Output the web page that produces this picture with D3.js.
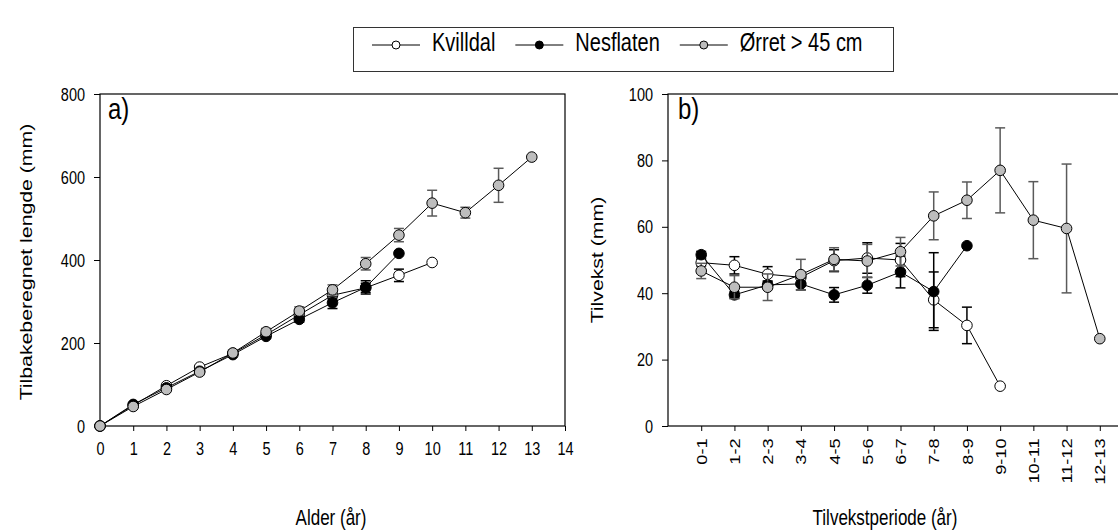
<!DOCTYPE html>
<html lang="en">
<head>
    <meta charset="UTF-8">
    <title>Tilbakeberegnet lengde og tilvekst</title>
    <style>
        body { margin: 0; background: #fff; }
        text { font-family: "Liberation Sans", Arial, sans-serif; fill: #000; }
        .tick text { font-size: 14.5px; }
    </style>
</head>
<body>
    <div id="target"></div>

    <script src="https://d3js.org/d3.v7.min.js"></script>
    <script>
        // --- data ---
        const seriesNames = ["Kvilldal", "Nesflaten", "Ørret > 45 cm"];
        const fills = ["#ffffff", "#000000", "#bdbdbd"];
        const errColors = ["#000000", "#000000", "#5a5a5a"];

        // a) length at age
        const ages = [0, 1, 2, 3, 4, 5, 6, 7, 8, 9, 10, 11, 12, 13];
        const lenKvilldal = [0, 50, 97, 142, 175, 220, 268, 315, 333, 363, 394];
        const seKvilldal = [0, 2, 3, 3, 4, 5, 7, 9, 11, 15, 0];
        const lenNesflaten = [0, 52, 92, 132, 172, 216, 257, 297, 334, 416];
        const seNesflaten = [0, 2, 2, 3, 4, 5, 7, 14, 16, 0];
        const lenOrret = [0, 47, 88, 130, 176, 227, 277, 328, 391, 460, 537, 514, 580, 648];
        const seOrret = [0, 3, 4, 6, 7, 8, 10, 12, 15, 16, 31, 13, 41, 0];

        // b) growth per period
        const periods = ["0-1", "1-2", "2-3", "3-4", "4-5", "5-6", "6-7", "7-8", "8-9", "9-10", "10-11", "11-12", "12-13"];
        const grKvilldal = [49.2, 48.4, 45.7, 44.8, 49.8, 50.6, 50.0, 38.0, 30.3, 12.0];
        const grSeKvilldal = [1.0, 2.6, 2.3, 1.5, 3.3, 4.6, 5.0, 8.4, 5.5, 0];
        const grNesflaten = [51.6, 39.5, 42.5, 42.8, 39.5, 42.4, 46.4, 40.5, 54.3];
        const grSeNesflaten = [1.0, 1.0, 1.2, 1.8, 2.2, 2.4, 4.8, 11.7, 0];
        const grOrret = [46.7, 41.8, 41.8, 45.6, 50.2, 49.7, 52.5, 63.3, 68.0, 77.0, 62.0, 59.5, 26.3];
        const grSeOrret = [2.3, 3.5, 4.0, 4.6, 3.5, 5.0, 4.3, 7.2, 5.5, 12.8, 11.6, 19.4, 0];

        const width = 1118;
        const height = 530;
        const sy = 1.25; // the figure's lettering is stretched vertically

        const svg = d3.select("#target")
            .append("svg")
            .attr("width", width)
            .attr("height", height);

        // text helper: places stretched text at x,y (rot = rotate -90)
        function label(g, x, y, str, size, anchor, rot) {
            return g.append("text")
                .attr("transform", `translate(${x},${y}) scale(1,${sy})` + (rot ? " rotate(-90)" : ""))
                .attr("text-anchor", anchor)
                .style("font-size", size + "px")
                .text(str);
        }

        // ---------- panel a ----------
        const xA = d3.scaleLinear().domain([0, 14]).range([100, 565]);
        const yA = d3.scaleLinear().domain([0, 800]).range([426, 94]);

        const gA = svg.append("g");

        gA.append("g")
            .attr("transform", "translate(0,426)")
            .call(d3.axisBottom(xA).tickValues(d3.range(0, 15)).tickSize(5).tickFormat(d3.format("d")))
            .call(g => g.select(".domain").remove())
            .call(g => g.selectAll(".tick text").attr("y", 23.6).attr("dy", 0).attr("transform", `scale(1,${sy})`));
        gA.append("g")
            .attr("transform", "translate(100,0)")
            .call(d3.axisLeft(yA).tickValues([0, 200, 400, 600, 800]).tickSize(6).tickPadding(9))
            .call(g => g.select(".domain").remove())
            .call(g => g.selectAll(".tick text").attr("dy", "0.34em").attr("transform", `scale(1,${sy})`));

        gA.append("rect")
            .attr("x", 100).attr("y", 94)
            .attr("width", 465).attr("height", 332)
            .attr("fill", "none").attr("stroke", "#000").attr("stroke-width", 1.2);

        const seriesA = [
            { vals: lenKvilldal, se: seKvilldal },
            { vals: lenNesflaten, se: seNesflaten },
            { vals: lenOrret, se: seOrret }
        ];
        seriesA.forEach((s, i) => {
            const pts = s.vals.map((v, j) => ({ x: ages[j], y: v, se: s.se[j] }));
            drawSeries(gA, pts, xA, yA, i);
        });

        label(gA, 108, 119, "a)", 24, "start", false);
        label(gA, 32, 262, "Tilbakeberegnet lengde (mm)", 17, "middle", true);
        label(gA, 331, 525, "Alder (år)", 17, "middle", false);

        // ---------- panel b ----------
        const xB = d3.scaleLinear().domain([-1, 13]).range([668, 1133]);
        const yB = d3.scaleLinear().domain([0, 100]).range([426, 94]);

        const gB = svg.append("g");

        gB.append("g")
            .attr("transform", "translate(0,426)")
            .call(d3.axisBottom(xB).tickValues(d3.range(0, periods.length)).tickSize(5).tickFormat(i => periods[i]))
            .call(g => g.select(".domain").remove())
            .call(g => g.selectAll(".tick text")
                .attr("transform", `scale(1,${sy}) rotate(-90)`)
                .attr("text-anchor", "end")
                .attr("dy", "0.35em")
                .attr("x", -10)
                .attr("y", 0));

        gB.append("g")
            .attr("transform", "translate(668,0)")
            .call(d3.axisLeft(yB).tickValues([0, 20, 40, 60, 80, 100]).tickSize(6).tickPadding(9))
            .call(g => g.select(".domain").remove())
            .call(g => g.selectAll(".tick text").attr("dy", "0.34em").attr("transform", `scale(1,${sy})`));

        gB.append("rect")
            .attr("x", 668).attr("y", 94)
            .attr("width", 465).attr("height", 332)
            .attr("fill", "none").attr("stroke", "#000").attr("stroke-width", 1.2);

        const seriesB = [
            { vals: grKvilldal, se: grSeKvilldal },
            { vals: grNesflaten, se: grSeNesflaten },
            { vals: grOrret, se: grSeOrret }
        ];
        seriesB.forEach((s, i) => {
            const pts = s.vals.map((v, j) => ({ x: j, y: v, se: s.se[j] }));
            drawSeries(gB, pts, xB, yB, i);
        });

        label(gB, 678, 119, "b)", 24, "start", false);
        label(gB, 603, 260, "Tilvekst (mm)", 17, "middle", true);
        label(gB, 885, 525, "Tilvekstperiode (år)", 17, "middle", false);

        svg.selectAll(".tick line").attr("stroke", "#000");

        // ---------- legend ----------
        const leg = svg.append("g");
        leg.append("rect")
            .attr("x", 353.5).attr("y", 27.5)
            .attr("width", 540).attr("height", 44)
            .attr("fill", "#fff").attr("stroke", "#333").attr("stroke-width", 1);

        let lx = 372;
        seriesNames.forEach((name, i) => {
            leg.append("line")
                .attr("x1", lx).attr("x2", lx + 48)
                .attr("y1", 45).attr("y2", 45)
                .attr("stroke", "#000").attr("stroke-width", 1);
            leg.append("circle")
                .attr("cx", lx + 24).attr("cy", 45).attr("r", 4)
                .attr("fill", fills[i]).attr("stroke", "#000").attr("stroke-width", 1);
            const t = label(leg, lx + 60, 51, name, 20, "start", false);
            lx += 60 + t.node().getComputedTextLength() + 20;
        });

        function drawSeries(g, pts, x, y, i) {
            const line = d3.line().x(d => x(d.x)).y(d => y(d.y));
            g.append("path")
                .datum(pts)
                .attr("d", line)
                .attr("fill", "none")
                .attr("stroke", "#000")
                .attr("stroke-width", 1);

            const eb = g.append("g")
                .attr("stroke", errColors[i])
                .attr("stroke-width", 1.5);
            pts.filter(d => d.se > 0).forEach(d => {
                const cx = x(d.x);
                const y1 = y(d.y - d.se);
                const y2 = y(d.y + d.se);
                eb.append("line").attr("x1", cx).attr("x2", cx).attr("y1", y1).attr("y2", y2);
                eb.append("line").attr("x1", cx - 5).attr("x2", cx + 5).attr("y1", y1).attr("y2", y1);
                eb.append("line").attr("x1", cx - 5).attr("x2", cx + 5).attr("y1", y2).attr("y2", y2);
            });

            g.selectAll(null)
                .data(pts)
                .join("circle")
                .attr("cx", d => x(d.x))
                .attr("cy", d => y(d.y))
                .attr("r", 5.3)
                .attr("fill", fills[i])
                .attr("stroke", "#000")
                .attr("stroke-width", 1);
        }
    </script>
</body>
</html>
